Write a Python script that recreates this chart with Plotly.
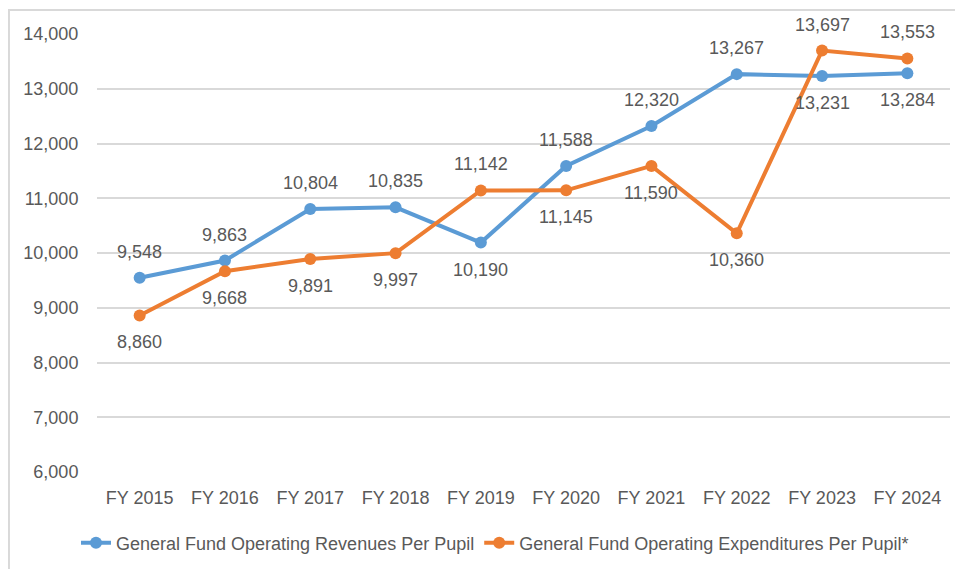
import plotly.graph_objects as go

years = ["FY 2015", "FY 2016", "FY 2017", "FY 2018", "FY 2019",
         "FY 2020", "FY 2021", "FY 2022", "FY 2023", "FY 2024"]
revenues = [9548, 9863, 10804, 10835, 10190, 11588, 12320, 13267, 13231, 13284]
expenditures = [8860, 9668, 9891, 9997, 11142, 11145, 11590, 10360, 13697, 13553]
# label side: 1 = above, -1 = below
rev_side = [1, 1, 1, 1, -1, 1, 1, 1, -1, -1]
exp_side = [-1, -1, -1, -1, 1, -1, -1, -1, 1, 1]

BLUE = "#5B9BD5"
ORANGE = "#ED7D31"
GREY = "#595959"
FONT = "Liberation Sans"

fig = go.Figure()
fig.add_trace(go.Scatter(x=years, y=revenues, mode="lines+markers",
                         name="General Fund Operating Revenues Per Pupil",
                         line=dict(color=BLUE, width=4),
                         marker=dict(color=BLUE, size=12), cliponaxis=False))
fig.add_trace(go.Scatter(x=years, y=expenditures, mode="lines+markers",
                         name="General Fund Operating Expenditures Per Pupil*",
                         line=dict(color=ORANGE, width=4),
                         marker=dict(color=ORANGE, size=12), cliponaxis=False))

annotations = []
for vals, sides in [(revenues, rev_side), (expenditures, exp_side)]:
    for x, v, s in zip(years, vals, sides):
        annotations.append(dict(x=x, y=v, text=f"{v:,}", showarrow=False,
                                yshift=26 if s > 0 else -27,
                                font=dict(size=18, color=GREY, family=FONT)))

# page body has an 8px margin, so the figure is sized 8px smaller
fig.update_layout(
    width=955, height=561,
    margin=dict(l=89, r=13, t=26, b=97, autoexpand=False),
    paper_bgcolor="white", plot_bgcolor="white",
    font=dict(family=FONT, color=GREY, size=18),
    showlegend=True,
    legend=dict(orientation="h", xref="container", yref="container",
                x=0.0712, xanchor="left", y=0.0463, yanchor="middle",
                font=dict(size=18, color=GREY), itemwidth=30, tracegroupgap=0),
    xaxis=dict(range=[-0.5, 9.5], showgrid=False, showline=False, automargin=False,
               ticks="outside", ticklen=9, tickcolor="white", tickfont=dict(size=18)),
    yaxis=dict(range=[6000, 14000], dtick=1000, tickformat=",d", automargin=False,
               gridcolor="#D9D9D9", gridwidth=1.5, zeroline=False, showline=False,
               ticks="outside", ticklen=14, tickcolor="white", tickfont=dict(size=18)),
    annotations=annotations,
    shapes=[dict(type="rect", xref="paper", yref="paper",
                 x0=-0.1032, x1=1.2, y0=-0.5, y1=1.0548,
                 line=dict(color="#D9D9D9", width=2), fillcolor="rgba(0,0,0,0)", layer="below")],
)

fig.write_html("out.html")
